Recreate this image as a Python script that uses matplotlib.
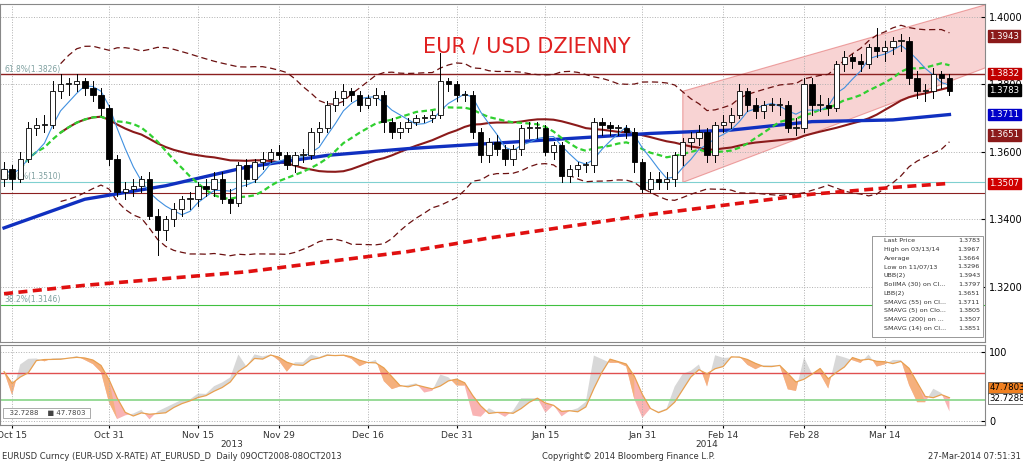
import numpy as np
import pandas as pd
import matplotlib
matplotlib.use("Agg")
import matplotlib.pyplot as plt
from matplotlib.patches import Rectangle, Polygon

# ---- data ----
dates = pd.bdate_range("2013-10-14", "2014-03-26")

closes = [
    1.355, 1.352, 1.358, 1.367, 1.368, 1.368, 1.378, 1.380, 1.380, 1.381, 1.379, 1.377, 1.373, 1.358,
    1.348, 1.349, 1.350, 1.352, 1.341, 1.337, 1.340, 1.343, 1.346, 1.346, 1.350, 1.349, 1.352, 1.346, 1.345, 1.356, 1.352, 1.357, 1.358, 1.360, 1.359,
    1.356, 1.359, 1.359, 1.366, 1.367, 1.374, 1.376, 1.378, 1.377, 1.374, 1.376, 1.377, 1.369, 1.366, 1.367, 1.369, 1.370, 1.370, 1.371, 1.381, 1.380, 1.377,
    1.377, 1.366, 1.359, 1.363, 1.361, 1.358, 1.361, 1.367, 1.367, 1.367, 1.360, 1.362, 1.353, 1.355, 1.356, 1.356, 1.369, 1.368, 1.367, 1.367, 1.366, 1.357, 1.349,
    1.352, 1.351, 1.352, 1.359, 1.363, 1.364, 1.366, 1.359, 1.368, 1.369, 1.371, 1.378, 1.374, 1.372, 1.374, 1.374, 1.374, 1.367, 1.367, 1.380,
    1.374, 1.374, 1.373, 1.386, 1.388, 1.387, 1.386, 1.391, 1.390, 1.391, 1.393, 1.393, 1.382, 1.378, 1.378, 1.383, 1.382, 1.378,
]
opens = [1.352] + closes[:-1]
highs = [
    1.357, 1.356, 1.360, 1.369, 1.370, 1.371, 1.381, 1.383, 1.382, 1.383, 1.382, 1.381, 1.379, 1.374,
    1.359, 1.351, 1.352, 1.353, 1.354, 1.343, 1.341, 1.345, 1.347, 1.348, 1.351, 1.352, 1.354, 1.354, 1.349, 1.357, 1.358, 1.358, 1.360, 1.361, 1.362,
    1.360, 1.360, 1.361, 1.367, 1.369, 1.375, 1.378, 1.380, 1.379, 1.378, 1.377, 1.379, 1.378, 1.370, 1.369, 1.370, 1.371, 1.371, 1.372, 1.3893, 1.382, 1.381,
    1.378, 1.378, 1.367, 1.364, 1.365, 1.362, 1.362, 1.368, 1.369, 1.369, 1.368, 1.363, 1.363, 1.356, 1.357, 1.357, 1.370, 1.370, 1.369, 1.368, 1.368, 1.367, 1.358,
    1.354, 1.354, 1.354, 1.360, 1.364, 1.366, 1.368, 1.367, 1.369, 1.371, 1.373, 1.380, 1.379, 1.376, 1.375, 1.376, 1.376, 1.375, 1.370, 1.382,
    1.382, 1.377, 1.376, 1.387, 1.390, 1.389, 1.389, 1.392, 1.3967, 1.393, 1.394, 1.395, 1.394, 1.384, 1.380, 1.385, 1.384, 1.383,
]
lows = [
    1.350, 1.349, 1.351, 1.357, 1.365, 1.366, 1.367, 1.376, 1.377, 1.378, 1.377, 1.375, 1.371, 1.356,
    1.347, 1.346, 1.347, 1.348, 1.340, 1.3296, 1.334, 1.338, 1.341, 1.343, 1.344, 1.347, 1.347, 1.345, 1.342, 1.344, 1.350, 1.351, 1.355, 1.357, 1.358,
    1.355, 1.354, 1.357, 1.358, 1.363, 1.366, 1.372, 1.374, 1.375, 1.372, 1.373, 1.374, 1.366, 1.364, 1.364, 1.366, 1.368, 1.369, 1.369, 1.370, 1.378, 1.375,
    1.375, 1.364, 1.357, 1.357, 1.359, 1.356, 1.356, 1.359, 1.364, 1.364, 1.359, 1.358, 1.351, 1.351, 1.353, 1.354, 1.354, 1.365, 1.365, 1.365, 1.364, 1.354, 1.348,
    1.348, 1.349, 1.349, 1.350, 1.356, 1.361, 1.362, 1.357, 1.357, 1.366, 1.367, 1.370, 1.372, 1.370, 1.370, 1.372, 1.371, 1.366, 1.365, 1.366,
    1.371, 1.372, 1.371, 1.372, 1.384, 1.385, 1.384, 1.385, 1.388, 1.387, 1.389, 1.390, 1.380, 1.376, 1.375, 1.376, 1.379, 1.377,
]

# long moving averages sampled every 10 bars (need history before the window)
ma_idx = [0, 10, 20, 30, 40, 50, 60, 70, 80, 90, 100, 110, 117]
sma55 = [1.3375, 1.346, 1.350, 1.3555, 1.359, 1.361, 1.3625, 1.364, 1.3655, 1.3665, 1.369, 1.3695, 1.3711]
sma200 = [1.318, 1.3205, 1.3225, 1.3245, 1.3275, 1.3305, 1.3345, 1.338, 1.3415, 1.3445, 1.3475, 1.3495, 1.3507]

fib_levels = [1.3826, 1.3510, 1.3146]
fib_names = ["61.8%(1.3826)", "50.0%(1.3510)", "38.2%(1.3146)"]
channel_lo = [1.3510, 1.3877]
channel_hi = [1.3780, 1.4057]
channel_x = [84.0, 124.5]

right_tags = [(1.3943, "#8b1a1a", "white"), (1.3832, "#c00000", "white"), (1.3783, "black", "white"),
              (1.3711, "#0000c8", "white"), (1.3651, "#8b1a1a", "white"), (1.3507, "#d00000", "white")]

legend_rows = [("Last Price", "1.3783"), ("High on 03/13/14", "1.3967"), ("Average", "1.3664"),
               ("Low on 11/07/13", "1.3296"), ("UBB(2)", "1.3943"), ("BollMA (30) on Cl...", "1.3797"),
               ("LBB(2)", "1.3651"), ("SMAVG (55) on Cl...", "1.3711"), ("SMAVG (5) on Clo...", "1.3805"),
               ("SMAVG (200) on ...", "1.3507"), ("SMAVG (14) on Cl...", "1.3851")]

tick_dates = ["2013-10-15", "2013-10-31", "2013-11-15", "2013-11-29", "2013-12-16", "2013-12-31",
              "2014-01-15", "2014-01-31", "2014-02-14", "2014-02-28", "2014-03-14"]
tick_labels = ["Oct 15", "Oct 31", "Nov 15", "Nov 29", "Dec 16", "Dec 31",
               "Jan 15", "Jan 31", "Feb 14", "Feb 28", "Mar 14"]

# ---- indicators ----
df = pd.DataFrame({"o": opens, "h": highs, "l": lows, "c": closes}, index=dates)
x = np.arange(len(df))
bb_mid = df.c.rolling(30, min_periods=8).mean()
bb_sd = df.c.rolling(30, min_periods=8).std()
sma5 = df.c.rolling(5, min_periods=1).mean()
sma14 = df.c.rolling(14, min_periods=3).mean()
ll = df.l.rolling(14, min_periods=1).min()
hh = df.h.rolling(14, min_periods=1).max()
k = (df.c - ll) / (hh - ll) * 100
d = k.rolling(3, min_periods=1).mean()

# ---- figure ----
W, H = 1023, 461
fig = plt.figure(figsize=(W / 100, H / 100), dpi=100)
plt.rcParams["font.family"] = ["DejaVu Sans"]
ax = fig.add_axes([0, 1 - 342 / H, 985 / W, 338 / H])
sx = fig.add_axes([0, 1 - 425 / H, 985 / W, 80 / H])
xlim = (-0.5, 121.4)

for a in (ax, sx):
    a.set_xlim(*xlim)
    a.yaxis.tick_right()
    a.tick_params(axis="y", labelsize=7, length=3, direction="in", pad=3)
    a.grid(True, color="#b0b0b0", linestyle=":", linewidth=0.7)
    for s in a.spines.values():
        s.set_color("#888888")

ax.set_ylim(1.3037, 1.40385)
ax.set_yticks([1.32, 1.34, 1.36, 1.38, 1.40])
ax.set_yticklabels(["1.3200", "1.3400", "1.3600", "1.3800", "1.4000"])
ax.set_xticks([dates.get_loc(pd.Timestamp(t)) for t in tick_dates])
ax.set_xticklabels([])
ax.tick_params(axis="x", length=0)

# channel
poly = Polygon([(channel_x[0], channel_lo[0]), (channel_x[1], channel_lo[1]),
                (channel_x[1], channel_hi[1]), (channel_x[0], channel_hi[0])],
               closed=True, facecolor="#f4b0b0", edgecolor="#e06060", alpha=0.55, lw=0.8, zorder=1)
ax.add_patch(poly)

# horizontal levels
ax.axhline(1.3832, color="#8b2020", lw=1.0, zorder=2)
ax.axhline(1.3478, color="#8b2020", lw=0.8, zorder=2)
ax.axhline(fib_levels[1], color="#7fd0d0", lw=0.8, zorder=2)
ax.axhline(fib_levels[2], color="#40c040", lw=0.8, zorder=2)
for lv, nm in zip(fib_levels, fib_names):
    ax.text(0.0, lv + 0.0004, nm, fontsize=5.5, color="#7fa0a0", ha="left", va="bottom")

# indicators
ax.plot(x, bb_mid + 2 * bb_sd, color="#6b1010", lw=0.9, ls=(0, (5, 3)), zorder=3)
ax.plot(x, bb_mid - 2 * bb_sd, color="#6b1010", lw=0.9, ls=(0, (5, 3)), zorder=3)
ax.plot(x, bb_mid, color="#8b1a1a", lw=1.5, zorder=3)
ax.plot(ma_idx, sma55, color="#1030c0", lw=2.4, zorder=3)
ax.plot(ma_idx, sma200, color="#e01010", lw=2.6, ls=(0, (2.5, 1.5)), zorder=3)
ax.plot(x, sma14, color="#30d030", lw=1.6, ls=(0, (2.5, 1.5)), zorder=3)
ax.plot(x, sma5, color="#4090e0", lw=0.8, zorder=3)

# candles
for i, (o, h, l, c) in enumerate(zip(opens, highs, lows, closes)):
    ax.plot([i, i], [l, h], color="black", lw=0.7, zorder=4)
    up = c >= o
    ax.add_patch(Rectangle((i - 0.33, min(o, c)), 0.66, max(abs(c - o), 0.0003),
                           facecolor="white" if up else "black", edgecolor="black", lw=0.6, zorder=5))

ax.text(0.535, 0.875, "EUR / USD DZIENNY", transform=ax.transAxes, color="#e02020", fontsize=15,
        ha="center", va="center")

# right-side value tags
for val, bg, fg in right_tags:
    ax.annotate(f"{val:.4f}", xy=(1, val), xycoords=("axes fraction", "data"), xytext=(3, 0),
                textcoords="offset points", fontsize=6.2, color=fg, va="center", ha="left",
                bbox=dict(boxstyle="square,pad=0.15", fc=bg, ec=bg), annotation_clip=False)

# legend box
lx0, ly0 = 0.885, 0.015
ax.add_patch(Rectangle((lx0, ly0), 0.113, 0.3, transform=ax.transAxes, facecolor="white",
                       edgecolor="#888888", lw=0.6, zorder=8))
for j, (nm, val) in enumerate(legend_rows):
    yy = ly0 + 0.285 - j * 0.026
    ax.text(lx0 + 0.012, yy, nm, transform=ax.transAxes, fontsize=4.6, va="center", color="#333333", zorder=9)
    ax.text(lx0 + 0.11, yy, val, transform=ax.transAxes, fontsize=4.6, va="center", ha="right", color="#333333", zorder=9)

# ---- stochastic panel ----
sx.set_ylim(-5.8, 110)
sx.set_yticks([0, 100])
sx.set_yticklabels(["0", "100"])
sx.axhline(70, color="#e05050", lw=1.0)
sx.axhline(30, color="#90d890", lw=1.3)
sx.fill_between(x, k, d, where=k >= d, color="#c8c8c8", alpha=0.7, interpolate=True, lw=0)
sx.fill_between(x, k, d, where=k < d, color="#f8a0a0", alpha=0.8, interpolate=True, lw=0)
sx.fill_between(x, k, d, where=(k < d) & (d > 50), color="#f4b070", alpha=0.8, interpolate=True, lw=0)
sx.plot(x, d, color="#e8a050", lw=0.9)
sx.set_xticks([dates.get_loc(pd.Timestamp(t)) for t in tick_dates])
sx.set_xticklabels(tick_labels, fontsize=6.5, color="#333333")
sx.tick_params(axis="x", length=2, pad=2)
sx.text(0.235, -0.28, "2013", transform=sx.transAxes, fontsize=6.5, color="#333333", ha="center")
sx.text(0.718, -0.28, "2014", transform=sx.transAxes, fontsize=6.5, color="#333333", ha="center")
for val, bg, fg in [(47.7803, "#f08020", "black"), (32.7288, "white", "black")]:
    sx.annotate(f"{val:.4f}", xy=(1, val), xycoords=("axes fraction", "data"), xytext=(3, 0),
                textcoords="offset points", fontsize=6.2, color=fg, va="center", ha="left",
                bbox=dict(boxstyle="square,pad=0.15", fc=bg, ec="#444444", lw=0.5), annotation_clip=False)
sx.text(0.005, 0.12, "  32.7288    \u25A0 47.7803 ", transform=sx.transAxes, fontsize=5, color="#444444",
        bbox=dict(boxstyle="square,pad=0.3", fc="white", ec="#888888", lw=0.5))

fig.text(0.002, 0.004, "EURUSD Curncy (EUR-USD X-RATE) AT_EURUSD_D  Daily 09OCT2008-08OCT2013", fontsize=6, color="#333333")
fig.text(0.53, 0.004, "Copyright\u00a9 2014 Bloomberg Finance L.P.", fontsize=6, color="#333333")
fig.text(0.998, 0.004, "27-Mar-2014 07:51:31", fontsize=6, color="#333333", ha="right")

fig.savefig("out.png", dpi=100)
